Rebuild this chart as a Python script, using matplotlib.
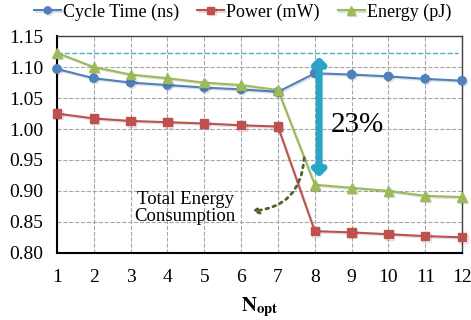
import matplotlib.pyplot as plt
import matplotlib.patheffects as pe

plt.rcParams['font.family'] = ['Liberation Serif', 'DejaVu Serif']
plt.rcParams['mathtext.fontset'] = 'stix'

n_opt = [1, 2, 3, 4, 5, 6, 7, 8, 9, 10, 11, 12]
cycle_time = [1.097, 1.082, 1.075, 1.071, 1.067, 1.064, 1.060, 1.090, 1.088, 1.085, 1.081, 1.078]
power = [1.025, 1.017, 1.013, 1.011, 1.009, 1.006, 1.004, 0.835, 0.833, 0.830, 0.827, 0.825]
energy = [1.123, 1.100, 1.088, 1.082, 1.075, 1.071, 1.063, 0.910, 0.905, 0.900, 0.892, 0.890]
yticks = [0.80, 0.85, 0.90, 0.95, 1.00, 1.05, 1.10, 1.15]

fig = plt.figure(figsize=(4.71, 3.2), dpi=100)
ax = fig.add_axes([0.121, 0.21, 0.86, 0.677])

shadow = [pe.SimpleLineShadow(offset=(1.0, -1.0), alpha=0.12), pe.Normal()]

ax.plot(n_opt, cycle_time, color='#4F81BD', marker='o', ms=6, lw=1.5,
        label='Cycle Time (ns)', clip_on=False, zorder=4, path_effects=shadow)
ax.plot(n_opt, power, color='#C0504D', marker='s', ms=6, lw=1.5,
        label='Power (mW)', clip_on=False, zorder=4, path_effects=shadow)
ax.plot(n_opt, energy, color='#9BBB59', marker='^', ms=7, lw=1.5,
        label='Energy (pJ)', clip_on=False, zorder=4, path_effects=shadow)

# reference level of the energy at N_opt = 1
ax.plot([1, 11.9], [energy[0], energy[0]], color='#4BACC6', ls='--', lw=1, zorder=2)

# 23% arrow
ax.annotate('', xy=(8.12, 0.922), xytext=(8.12, 1.117),
            arrowprops=dict(arrowstyle='<|-|>,head_width=0.35,head_length=0.35',
                            color='#2AA5C6', lw=5, shrinkA=0, shrinkB=0), zorder=5)
ax.text(9.15, 1.006, '23%', fontsize=21, ha='center', va='center')

ax.annotate('', xy=(6.2, 0.867), xytext=(7.72, 0.958),
            arrowprops=dict(arrowstyle='->', color='#4F6228', lw=2, ls=':',
                            connectionstyle='arc3,rad=-0.45'), zorder=5)
ax.text(4.48, 0.872, 'Total Energy\nConsumption', fontsize=13.5, ha='center',
        va='center', linespacing=1.0)

ax.set_xlim(1, 12)
ax.set_ylim(0.80, 1.15)
ax.set_xticks(n_opt)
ax.set_yticks(yticks)
ax.set_yticklabels(['%.2f' % v for v in yticks])
ax.tick_params(length=0, labelsize=14, pad=10)
ax.tick_params(axis='x', pad=12)
ax.grid(True, color='#A6A6A6', ls='--', lw=0.8)
ax.set_axisbelow(True)
for s in ax.spines.values():
    s.set_color('#404040')
    s.set_linewidth(1)
ax.spines['left'].set_color('black')
ax.spines['left'].set_linewidth(1.5)
ax.spines['bottom'].set_color('black')
ax.spines['bottom'].set_linewidth(1.5)

ax.set_xlabel(r'$\mathbf{N}_{\mathbf{opt}}$', fontsize=15, labelpad=6)

fig.legend(loc='upper center', bbox_to_anchor=(0.515, 1.04), ncol=3, frameon=False,
           fontsize=13, handlelength=1.5, handletextpad=0.1, columnspacing=1.0,
           markerscale=0.85)

fig.savefig('out.png', dpi=100)
